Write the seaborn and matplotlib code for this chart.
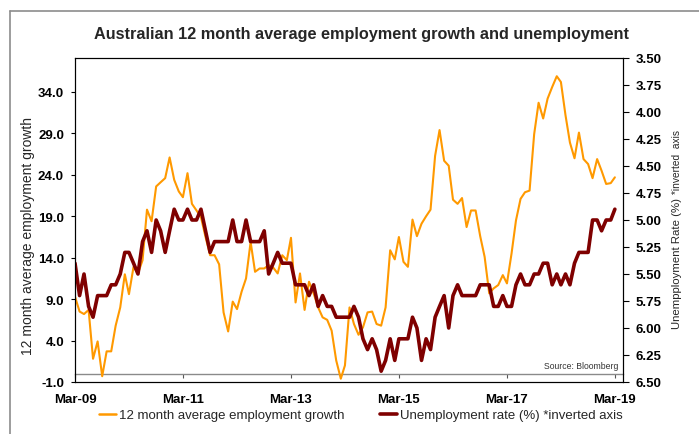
import numpy as np
import pandas as pd
import matplotlib
matplotlib.use("Agg")
import matplotlib.pyplot as plt
import matplotlib.dates as mdates
from matplotlib.lines import Line2D
import seaborn as sns

# monthly data, Mar-2009 .. Mar-2019
emp_growth = [
    9.3, 7.5, 7.2, 7.7, 1.8, 3.9, -0.3, 2.7, 2.7, 5.8, 8.0, 12.0, 9.6, 12.9, 12.1, 13.7, 19.8, 18.4, 22.6, 23.1,
    23.6, 26.1, 23.4, 22.0, 21.3, 24.2,
    20.5, 19.7, 18.9, 16.5, 14.3, 14.3, 13.2, 7.4, 5.1, 8.7, 7.8, 9.9, 11.5, 15.9, 12.3, 12.7, 12.7, 13.1, 12.8, 12.1,
    14.3, 13.7, 16.4, 8.6,
    12.1, 7.7, 11.1, 9.7, 8.0, 6.8, 6.5, 5.2, 1.6, -0.6, 1.0, 8.0, 6.0, 4.7, 5.6, 7.4, 7.5, 6.0, 5.8, 8.0,
    14.9, 13.8, 16.5, 13.5, 12.9,
    18.6, 16.6, 18.1, 19.0, 19.8, 26.3, 29.4, 25.7, 25.1, 21.0, 20.5, 21.2, 17.7, 19.7, 19.7, 16.6, 14.1, 9.7, 10.3, 10.7,
    11.9, 10.9, 14.5,
    18.5, 21.1, 21.9, 22.1, 28.9, 32.7, 30.8, 33.2, 34.6, 35.9, 35.2, 31.2, 27.9, 26.0, 29.1, 25.9, 25.3, 23.6, 25.9, 24.5,
    22.9, 23.0, 23.7,
]
unemp_rate = [
    5.4, 5.7, 5.5, 5.8, 5.9, 5.7, 5.7, 5.7, 5.6, 5.6, 5.5, 5.3, 5.3, 5.4, 5.5, 5.2, 5.1, 5.3, 5.0, 5.1,
    5.3, 5.1, 4.9, 5.0, 5.0, 4.9,
    5.0, 5.0, 4.9, 5.1, 5.3, 5.2, 5.2, 5.2, 5.2, 5.0, 5.2, 5.2, 5.0, 5.2, 5.2, 5.2, 5.1, 5.5, 5.4, 5.3,
    5.4, 5.4, 5.4, 5.6,
    5.6, 5.6, 5.7, 5.6, 5.8, 5.7, 5.8, 5.8, 5.9, 5.9, 5.9, 5.9, 5.8, 5.9, 6.1, 6.2, 6.1, 6.2, 6.4, 6.3,
    6.1, 6.3, 6.1, 6.1, 6.1,
    5.9, 6.0, 6.3, 6.1, 6.2, 5.9, 5.8, 5.7, 6.0, 5.7, 5.6, 5.7, 5.7, 5.7, 5.7, 5.6, 5.6, 5.6, 5.8, 5.8,
    5.7, 5.8, 5.8,
    5.6, 5.5, 5.6, 5.6, 5.5, 5.5, 5.4, 5.4, 5.6, 5.5, 5.6, 5.5, 5.6, 5.4, 5.3, 5.3, 5.3, 5.0, 5.0, 5.1,
    5.0, 5.0, 4.9,
]
dates = pd.date_range("2009-03-01", periods=len(emp_growth), freq="MS")

x_tick_dates = pd.to_datetime(["2009-03-01", "2011-03-01", "2013-03-01", "2015-03-01", "2017-03-01", "2019-03-01"])
x_tick_labels = ["Mar-09", "Mar-11", "Mar-13", "Mar-15", "Mar-17", "Mar-19"]
left_ticks = [-1.0, 4.0, 9.0, 14.0, 19.0, 24.0, 29.0, 34.0]
right_ticks = [3.50, 3.75, 4.00, 4.25, 4.50, 4.75, 5.00, 5.25, 5.50, 5.75, 6.00, 6.25, 6.50]

df = pd.DataFrame({"date": dates, "emp_growth": emp_growth, "unemp_rate": unemp_rate})

ORANGE = "#FF9900"
BROWN = "#7F0000"

sns.set_theme(style="white")
plt.rcParams["font.family"] = ["Liberation Sans", "DejaVu Sans"]

fig = plt.figure(figsize=(6.99, 4.35), dpi=100)
ax = fig.add_axes([75 / 699, 1 - 383 / 435, (623 - 75) / 699, (383 - 59) / 435])
ax2 = ax.twinx()

sns.lineplot(data=df, x="date", y="emp_growth", ax=ax, color=ORANGE, linewidth=1.5, legend=False)
sns.lineplot(data=df, x="date", y="unemp_rate", ax=ax2, color=BROWN, linewidth=2.6, legend=False)

ylim_left = (-1.0, 38.1)
ax.set_ylim(*ylim_left)
ax2.set_ylim(6.5, 3.5)  # inverted axis
ax.set_xlim(pd.Timestamp("2009-03-01"), pd.Timestamp("2019-04-25"))

ax.set_yticks(left_ticks)
ax.set_yticklabels([f"{v:.1f}" for v in left_ticks], fontweight="bold", fontsize=9.5)
ax2.set_yticks(right_ticks)
ax2.set_yticklabels([f"{v:.2f}" for v in right_ticks], fontweight="bold", fontsize=9.5)
ax.set_xticks(x_tick_dates)
ax.set_xticklabels(x_tick_labels, fontweight="bold", fontsize=9.5)

ax.tick_params(axis="x", length=0, pad=8, colors="black")
ax.tick_params(axis="y", left=True, length=3, width=0.8, pad=5, colors="black", direction="out")
ax2.tick_params(axis="y", right=True, length=4, width=0.8, pad=5, colors="black", direction="out")
ax.set_xlabel("")
ax.set_ylabel("")
ax2.set_ylabel("")
ax.grid(False)
ax2.grid(False)
for a in (ax, ax2):
    for s in a.spines.values():
        s.set_color("black")
        s.set_linewidth(0.8)

# category axis crossing at zero, with its ticks
zero_frac = (0 - ylim_left[0]) / (ylim_left[1] - ylim_left[0])
sec = ax.secondary_xaxis(zero_frac)
sec.set_xticks(mdates.date2num(x_tick_dates))
sec.tick_params(axis="x", length=3, width=0.8, direction="out", color="#555555",
                labelbottom=False, labeltop=False)
for s in sec.spines.values():
    s.set_color("#8a8a8a")
    s.set_linewidth(1.0)

ax.text(0.991, 0.052, "Source: Bloomberg", transform=ax.transAxes, ha="right", va="center",
        fontsize=6.2, color="#333333")

fig.text(362 / 699, 1 - 34 / 435, "Australian 12 month average employment growth and unemployment",
         ha="center", va="center", fontsize=11.7, fontweight="bold")

fig.text(28.5 / 699, 1 - 236 / 435, "12 month average employment growth", rotation=90,
         ha="center", va="center", fontsize=10)
t1 = fig.text(677 / 699, 1 - 329 / 435, "Unempployment Rate (%)", rotation=90,
              ha="center", va="bottom", fontsize=8.2)
ax.annotate("*inverted  axis", xy=(0.5, 1.0), xycoords=t1, xytext=(0, 3), textcoords="offset points",
            rotation=90, ha="center", va="bottom", fontsize=7.3, annotation_clip=False)

handles = [Line2D([], [], color=ORANGE, linewidth=1.8), Line2D([], [], color=BROWN, linewidth=2.6)]
fig.legend(handles, ["12 month average employment growth", "Unemployment rate (%) *inverted axis"],
           loc="center", bbox_to_anchor=(361 / 699, 1 - 416 / 435), ncol=2, frameon=False,
           fontsize=9.5, handlelength=1.3, handletextpad=0.2, columnspacing=2.7)

# outer frame (top and left)
fig.add_artist(Line2D([10 / 699, 10 / 699], [0, 1 - 12 / 435], transform=fig.transFigure,
                      color="#8c8c8c", linewidth=1.2))
fig.add_artist(Line2D([10 / 699, 1], [1 - 12 / 435, 1 - 12 / 435], transform=fig.transFigure,
                      color="#8c8c8c", linewidth=1.2))

fig.savefig("out.png", dpi=100)
